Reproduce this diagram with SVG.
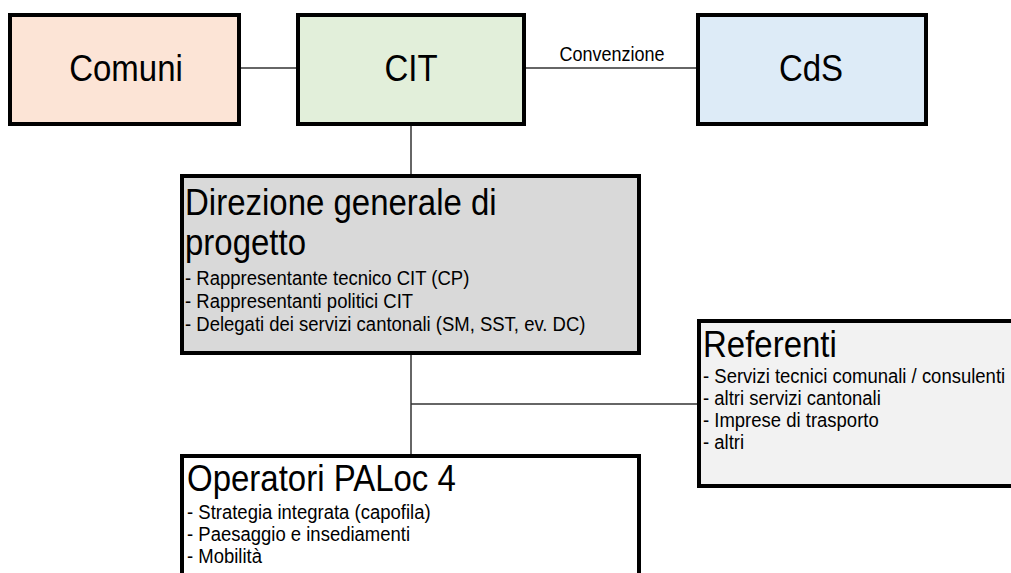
<svg xmlns="http://www.w3.org/2000/svg" width="1011" height="573" viewBox="0 0 1011 573">
  <style>
    .box { stroke: #000; stroke-width: 4; }
    .conn { stroke: #333; stroke-width: 1.5; fill: none; }
    text { font-family: "Liberation Sans", Arial, sans-serif; fill: #000; }
    .big { font-size: 33px; }
    .mid { font-size: 33px; }
    .sub { font-size: 18.5px; }
    .lbl { font-size: 18px; }
  </style>
  <rect width="1011" height="573" fill="#fff"/>
  <g id="connectors">
    <line class="conn" x1="239" y1="68" x2="298" y2="68"/>
    <line class="conn" x1="524" y1="68" x2="698" y2="68"/>
    <line class="conn" x1="411" y1="124" x2="411" y2="176"/>
    <line class="conn" x1="411" y1="353" x2="411" y2="456"/>
    <line class="conn" x1="411" y1="404" x2="697" y2="404"/>
    <text class="lbl" transform="translate(612,61) scale(1,1.1)" text-anchor="middle">Convenzione</text>
  </g>
  <g id="comuni">
    <rect class="box" x="10" y="15" width="229" height="109" fill="#fce4d6"/>
    <text class="big" transform="translate(126,81) scale(1,1.12)" text-anchor="middle">Comuni</text>
  </g>
  <g id="cit">
    <rect class="box" x="298" y="15" width="226" height="109" fill="#e2efda"/>
    <text class="big" transform="translate(411,81) scale(1,1.12)" text-anchor="middle">CIT</text>
  </g>
  <g id="cds">
    <rect class="box" x="698" y="15" width="228" height="109" fill="#ddebf7"/>
    <text class="big" transform="translate(811,81) scale(1,1.12)" text-anchor="middle">CdS</text>
  </g>
  <g id="direzione">
    <rect class="box" x="182" y="176" width="457" height="177" fill="#d9d9d9"/>
    <text class="mid" transform="translate(185,215) scale(1,1.12)">Direzione generale di</text>
    <text class="mid" transform="translate(185,255) scale(1,1.12)">progetto</text>
    <text class="sub" transform="translate(185,285) scale(1,1.1)">- Rappresentante tecnico CIT (CP)</text>
    <text class="sub" transform="translate(185,308) scale(1,1.1)">- Rappresentanti politici CIT</text>
    <text class="sub" transform="translate(185,331) scale(1,1.1)">- Delegati dei servizi cantonali (SM, SST, ev. DC)</text>
  </g>
  <g id="referenti">
    <rect class="box" x="699" y="321" width="330" height="165" fill="#f2f2f2"/>
    <text class="mid" transform="translate(703,357) scale(1,1.12)">Referenti</text>
    <text class="sub" transform="translate(703,383) scale(1,1.1)">- Servizi tecnici comunali / consulenti</text>
    <text class="sub" transform="translate(703,405) scale(1,1.1)">- altri servizi cantonali</text>
    <text class="sub" transform="translate(703,427) scale(1,1.1)">- Imprese di trasporto</text>
    <text class="sub" transform="translate(703,449) scale(1,1.1)">- altri</text>
  </g>
  <g id="operatori">
    <rect class="box" x="182" y="456" width="457" height="140" fill="#fff"/>
    <text class="mid" transform="translate(187,491) scale(1,1.12)">Operatori PALoc 4</text>
    <text class="sub" transform="translate(187,519) scale(1,1.1)">- Strategia integrata (capofila)</text>
    <text class="sub" transform="translate(187,541) scale(1,1.1)">- Paesaggio e insediamenti</text>
    <text class="sub" transform="translate(187,563) scale(1,1.1)">- Mobilità</text>
  </g>
</svg>
